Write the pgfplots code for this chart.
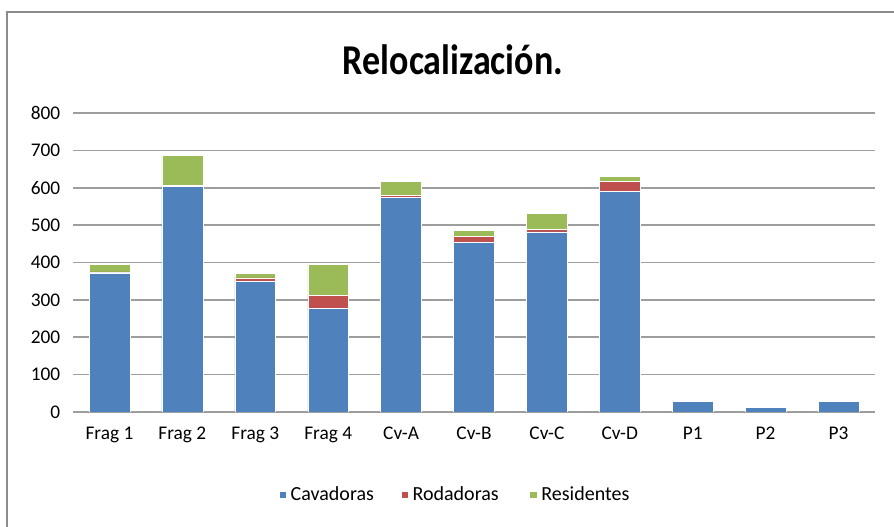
\documentclass[border=0pt]{standalone}
\usepackage{pgfplots}
\pgfplotsset{compat=1.18}
\usepackage{fontspec}
\setmainfont{Carlito}
\definecolor{cav}{HTML}{4F81BD}
\definecolor{rod}{HTML}{C0504D}
\definecolor{res}{HTML}{9BBB59}
\begin{document}
\begin{tikzpicture}[x=0.75pt,y=0.75pt]
\useasboundingbox (0,0) rectangle (894,527);
\draw[black!45, line width=1.2pt] (7,0) -- (7,515) -- (894,515);
\node[font=\fontsize{27}{30}\selectfont\bfseries] at (453,467) {\scalebox{1}[1.18]{Relocalización.}};
\begin{axis}[
  at={(54.75pt,86.25pt)}, anchor=south west, scale only axis,
  width=601.5pt, height=224.25pt,
  ybar stacked, bar width=0.56,
  xmin=-0.5, xmax=10.5, ymin=0, ymax=800,
  ytick={0,100,...,800},
  xtick={0,...,10},
  xticklabels={Frag 1,Frag 2,Frag 3,Frag 4,Cv-A,Cv-B,Cv-C,Cv-D,P1,P2,P3},
  axis line style={draw=none},
  major tick length=0pt,
  ymajorgrids, grid style={black!38, line width=1.2pt},
  tick label style={font=\fontsize{14.5}{16}\selectfont},
  yticklabel style={xshift=-6pt},
  xticklabel style={yshift=-8pt},
  /pgf/number format/assume math mode=true,
  legend style={at={(0.4776,-0.277)}, anchor=center, draw=none, legend columns=3,
    font=\fontsize{15}{16}\selectfont, column sep=0pt, nodes={inner sep=3pt}},
  legend image code/.code={\fill[#1] (0,-0.28em) rectangle (0.56em,0.28em);},
]
\addplot[fill=cav, draw=white, line width=0.4pt] coordinates {(0,372) (1,603) (2,350) (3,278) (4,575) (5,454) (6,482) (7,590) (8,28) (9,13) (10,28)};
\addplot[fill=rod, draw=white, line width=0.4pt] coordinates {(0,3) (1,3) (2,9) (3,35) (4,4) (5,16) (6,7) (7,28) (8,0) (9,0) (10,0)};
\addplot[fill=res, draw=white, line width=0.4pt] coordinates {(0,20) (1,80) (2,12) (3,82) (4,39) (5,16) (6,43) (7,12) (8,0) (9,0) (10,0)};
\legend{Cavadoras\hspace*{17pt},Rodadoras\hspace*{20pt},Residentes}
\end{axis}
\end{tikzpicture}
\end{document}
